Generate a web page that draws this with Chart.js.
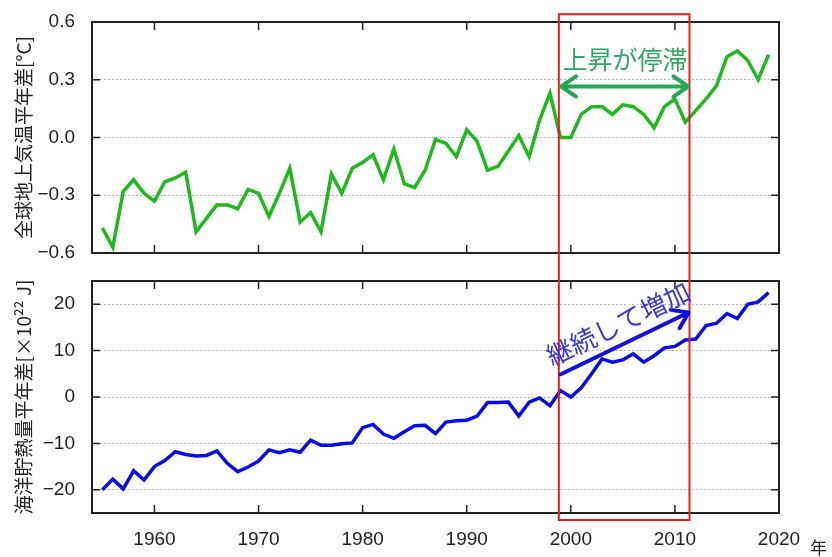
<!DOCTYPE html>
<html>
<head>
<meta charset="utf-8">
<script src="https://cdn.jsdelivr.net/npm/chart.js@4.4.0/dist/chart.umd.min.js"></script>
<style>
  html, body { margin: 0; padding: 0; background: #fff; }
  #wrap { position: relative; width: 832px; height: 557px; overflow: hidden; }
  #top { position: absolute; left: 0; top: 0; }
  #bottom { position: absolute; left: 0; top: 267px; }
</style>
</head>
<body>
<div id="wrap">
  <canvas id="top" width="832" height="267"></canvas>
  <canvas id="bottom" width="832" height="290"></canvas>
</div>
<script>
// years on the shared x axis
const years = [
  1955, 1956, 1957, 1958, 1959, 1960, 1961, 1962, 1963, 1964,
  1965, 1966, 1967, 1968, 1969, 1970, 1971, 1972, 1973, 1974,
  1975, 1976, 1977, 1978, 1979, 1980, 1981, 1982, 1983, 1984,
  1985, 1986, 1987, 1988, 1989, 1990, 1991, 1992, 1993, 1994,
  1995, 1996, 1997, 1998, 1999, 2000, 2001, 2002, 2003, 2004,
  2005, 2006, 2007, 2008, 2009, 2010, 2011, 2012, 2013, 2014,
  2015, 2016, 2017, 2018, 2019
];

// global surface temperature anomaly [°C]
const tempAnomaly = [
  -0.47, -0.57, -0.28, -0.22, -0.29, -0.33, -0.23, -0.21, -0.18, -0.49,
  -0.42, -0.35, -0.35, -0.37, -0.27, -0.29, -0.41, -0.29, -0.16, -0.44,
  -0.39, -0.49, -0.19, -0.29, -0.16, -0.13, -0.09, -0.22, -0.06, -0.24,
  -0.26, -0.17, -0.01, -0.03, -0.10, 0.04, -0.02, -0.17, -0.15, -0.07,
  0.01, -0.10, 0.09, 0.23, 0.00, 0.00, 0.12, 0.16, 0.16, 0.12,
  0.17, 0.16, 0.12, 0.05, 0.16, 0.20, 0.08, 0.14, 0.20, 0.27,
  0.42, 0.45, 0.40, 0.30, 0.43
];

// ocean heat content anomaly [x10^22 J]
const heatAnomaly = [
  -20.0, -17.7, -19.8, -15.9, -17.9, -15.0, -13.7, -11.8, -12.4, -12.7,
  -12.6, -11.6, -14.3, -16.1, -15.1, -13.8, -11.4, -12.0, -11.4, -11.9,
  -9.3, -10.4, -10.4, -10.1, -9.9, -6.6, -5.9, -8.0, -8.9, -7.5,
  -6.2, -6.1, -7.9, -5.4, -5.1, -5.0, -4.1, -1.2, -1.2, -1.1,
  -4.1, -1.1, -0.2, -1.9, 1.4, 0.0, 2.0, 5.0, 8.2, 7.5,
  8.0, 9.3, 7.5, 8.9, 10.6, 10.9, 12.3, 12.5, 15.4, 15.9,
  18.0, 16.9, 20.0, 20.5, 22.5
];

const xTicks = [1960, 1970, 1980, 1990, 2000, 2010, 2020];
const tempTicks = [-0.6, -0.3, 0.0, 0.3, 0.6];
const heatTicks = [-20, -10, 0, 10, 20];

// highlighted period (red box) and annotation anchors, in data units
const boxFrom = 1998.85, boxTo = 2011.4;
const stallArrow = { from: 1999.07, to: 2011.28, y: 0.265 };
const stallLabel = { text: '上昇が停滞', x: 2005.2, y: 0.405 };
const riseArrow = { x1: 1999.04, y1: 4.9, x2: 2011.31, y2: 18.2 };
const riseLabel = { text: '継続して増加', x: 2004.55, y: 15.8 };

const TICK_FONT = '"Liberation Sans", Arial, sans-serif';
const CJK_FONT = '"Noto Sans CJK JP", "Noto Sans CJK SC", sans-serif';
const minus = (s) => s.replace('-', '\u2212');

Chart.defaults.font.family = TICK_FONT;
Chart.defaults.color = '#222';

function pairs(vals) {
  return years.map((yr, i) => ({ x: yr, y: vals[i] }));
}

function drawArrow(ctx, x1, y1, x2, y2, both, color) {
  const ang = Math.atan2(y2 - y1, x2 - x1);
  const len = 18, spread = 0.6;
  ctx.save();
  ctx.strokeStyle = color;
  ctx.lineWidth = 4;
  ctx.lineCap = 'round';
  ctx.lineJoin = 'round';
  ctx.beginPath();
  ctx.moveTo(x1, y1);
  ctx.lineTo(x2, y2);
  // head at the end
  ctx.moveTo(x2 - len * Math.cos(ang - spread), y2 - len * Math.sin(ang - spread));
  ctx.lineTo(x2, y2);
  ctx.lineTo(x2 - len * Math.cos(ang + spread), y2 - len * Math.sin(ang + spread));
  if (both) {
    ctx.moveTo(x1 + len * Math.cos(ang - spread), y1 + len * Math.sin(ang - spread));
    ctx.lineTo(x1, y1);
    ctx.lineTo(x1 + len * Math.cos(ang + spread), y1 + len * Math.sin(ang + spread));
  }
  ctx.stroke();
  ctx.restore();
}

// frame and inward tick marks, gnuplot style
const panelFrame = {
  id: 'panelFrame',
  afterDraw(chart) {
    const { ctx, chartArea: a, scales: { x, y } } = chart;
    ctx.save();
    ctx.strokeStyle = '#222';
    ctx.lineWidth = 1.5;
    ctx.beginPath();
    x.ticks.forEach(t => {
      if (t.value >= x.max) return;
      const px = x.getPixelForValue(t.value);
      ctx.moveTo(px, a.bottom); ctx.lineTo(px, a.bottom - 8);
      ctx.moveTo(px, a.top); ctx.lineTo(px, a.top + 8);
    });
    y.ticks.forEach(t => {
      if (t.value <= y.min + 1e-9 || t.value >= y.max - 1e-9) return;
      const py = y.getPixelForValue(t.value);
      ctx.moveTo(a.left, py); ctx.lineTo(a.left + 8, py);
      ctx.moveTo(a.right, py); ctx.lineTo(a.right - 8, py);
    });
    ctx.stroke();
    ctx.lineWidth = 2;
    ctx.strokeRect(a.left, a.top, a.right - a.left, a.bottom - a.top);
    ctx.restore();
  }
};

const topNotes = {
  id: 'topNotes',
  afterDraw(chart) {
    const { ctx, scales: { x, y } } = chart;
    const x1 = x.getPixelForValue(boxFrom), x2 = x.getPixelForValue(boxTo);
    const yt = y.getPixelForValue(0.64);
    ctx.save();
    ctx.strokeStyle = '#ee1c1c';
    ctx.lineWidth = 2;
    ctx.beginPath();
    ctx.moveTo(x1, chart.height + 2);
    ctx.lineTo(x1, yt);
    ctx.lineTo(x2, yt);
    ctx.lineTo(x2, chart.height + 2);
    ctx.stroke();

    const ay = y.getPixelForValue(stallArrow.y);
    drawArrow(ctx, x.getPixelForValue(stallArrow.from), ay, x.getPixelForValue(stallArrow.to), ay, true, '#22a854');

    ctx.fillStyle = '#2fa866';
    ctx.font = '25px ' + CJK_FONT;
    ctx.textAlign = 'center';
    ctx.textBaseline = 'middle';
    ctx.fillText(stallLabel.text, x.getPixelForValue(stallLabel.x), y.getPixelForValue(stallLabel.y));
    ctx.restore();
  }
};

const bottomNotes = {
  id: 'bottomNotes',
  afterDraw(chart) {
    const { ctx, scales: { x, y } } = chart;
    const x1 = x.getPixelForValue(boxFrom), x2 = x.getPixelForValue(boxTo);
    const yb = y.getPixelForValue(-26.5);
    ctx.save();
    ctx.strokeStyle = '#ee1c1c';
    ctx.lineWidth = 2;
    ctx.beginPath();
    ctx.moveTo(x1, -2);
    ctx.lineTo(x1, yb);
    ctx.lineTo(x2, yb);
    ctx.lineTo(x2, -2);
    ctx.stroke();

    const ax1 = x.getPixelForValue(riseArrow.x1), ay1 = y.getPixelForValue(riseArrow.y1);
    const ax2 = x.getPixelForValue(riseArrow.x2), ay2 = y.getPixelForValue(riseArrow.y2);
    drawArrow(ctx, ax1, ay1, ax2, ay2, false, '#0f0fe6');

    ctx.fillStyle = '#3535e0';
    ctx.font = '26px ' + CJK_FONT;
    ctx.textAlign = 'center';
    ctx.textBaseline = 'middle';
    ctx.translate(x.getPixelForValue(riseLabel.x), y.getPixelForValue(riseLabel.y));
    ctx.rotate(Math.atan2(ay2 - ay1, ax2 - ax1));
    ctx.fillText(riseLabel.text, 0, 0);
    ctx.restore();

    // unit for the x axis
    ctx.save();
    ctx.fillStyle = '#222';
    ctx.font = '17px ' + CJK_FONT;
    ctx.textAlign = 'center';
    ctx.textBaseline = 'middle';
    ctx.fillText('年', x.getPixelForValue(2023.8), x.top + 35);
    ctx.restore();
  }
};

function makePanel(canvas, values, color, yMin, yMax, yTicks, fmt, title, padTop, xHeight, showX, notes) {
  return new Chart(canvas, {
    type: 'line',
    data: {
      datasets: [{
        data: pairs(values),
        borderColor: color,
        borderWidth: 3.5,
        pointRadius: 0,
        fill: false,
        tension: 0
      }]
    },
    options: {
      responsive: false,
      animation: false,
      layout: { padding: { left: 0, right: 53, top: padTop, bottom: 0 } },
      plugins: { legend: { display: false }, tooltip: { enabled: false } },
      scales: {
        x: {
          type: 'linear',
          min: 1954,
          max: 2020,
          afterBuildTicks: (s) => { s.ticks = xTicks.map(v => ({ value: v })); },
          ticks: {
            display: showX,
            padding: 15,
            font: { size: 19 },
            color: '#222',
            maxRotation: 0,
            callback: (v) => String(v)
          },
          grid: { display: false, drawTicks: false },
          border: { display: false },
          afterFit: (s) => {
            s.height = xHeight;
            s.paddingLeft = 0; s.paddingRight = 0;
          }
        },
        y: {
          min: yMin,
          max: yMax,
          afterBuildTicks: (s) => { s.ticks = yTicks.map(v => ({ value: v })); },
          ticks: {
            padding: 17,
            font: { size: 19 },
            color: '#222',
            callback: (v) => minus(fmt(v))
          },
          grid: { color: '#b4b4b4', lineWidth: 1, drawTicks: false, tickLength: 0 },
          border: { display: false, dash: [2, 2] },
          title: {
            display: true,
            text: title,
            color: '#222',
            font: { size: 19, family: CJK_FONT },
            padding: { top: 12, bottom: 0 }
          },
          afterFit: (s) => {
            // fixed axis box so both panels share the same plot area
            s.width = 92;
            s.paddingTop = 0; s.paddingBottom = 0;
          }
        }
      }
    },
    plugins: [panelFrame, notes]
  });
}

makePanel(document.getElementById('top'), tempAnomaly, '#1db91d',
  -0.6, 0.6, tempTicks, (v) => v.toFixed(1),
  '全球地上気温平年差[°C]', 22, 14, false, topNotes);

makePanel(document.getElementById('bottom'), heatAnomaly, '#0a0af0',
  -25, 25, heatTicks, (v) => String(Math.round(v)),
  '海洋貯熱量平年差[×10²² J]', 14, 44, true, bottomNotes);
</script>
</body>
</html>
